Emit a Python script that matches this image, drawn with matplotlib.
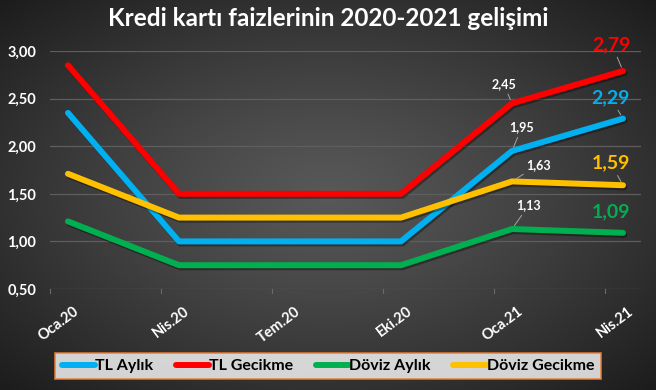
import matplotlib
matplotlib.use("Agg")
import matplotlib.pyplot as plt
import matplotlib.patheffects as pe
import matplotlib.transforms as mtrans
import numpy as np

plt.rcParams['font.family'] = ['Lato', 'DejaVu Sans']
plt.rcParams['font.weight'] = 'bold'

# data
months = ['Oca.20', 'Nis.20', 'Tem.20', 'Eki.20', 'Oca.21', 'Nis.21']
tl_aylik = [2.35, 1.00, 1.00, 1.00, 1.95, 2.29]
tl_gecikme = [2.85, 1.50, 1.50, 1.50, 2.45, 2.79]
doviz_aylik = [1.21, 0.75, 0.75, 0.75, 1.13, 1.09]
doviz_gecikme = [1.71, 1.25, 1.25, 1.25, 1.63, 1.59]
y_ticks = [0.5, 1.0, 1.5, 2.0, 2.5, 3.0]


def fmt(v):
    return ('%.2f' % v).replace('.', ',')


fig = plt.figure(figsize=(6.56, 3.90), dpi=100)

# radial gradient background
bg = fig.add_axes([0, 0, 1, 1], zorder=-10)
gx, gy = np.meshgrid(np.linspace(-1, 1, 400), np.linspace(-1, 1, 240))
r = np.sqrt(gx ** 2 + gy ** 2) / np.sqrt(2)
r = np.clip(r, 0, 1)
c_in, c_out = 0x58 / 255, 0x1c / 255
img = c_in + (c_out - c_in) * r ** 1.2
bg.imshow(np.dstack([img, img, img]), aspect='auto', extent=[0, 1, 0, 1])
bg.axis('off')

ax = fig.add_axes([50 / 656, 1 - 289 / 390, 591 / 656, 238 / 390])
ax.patch.set_alpha(0)

x = np.arange(len(months))
series = [
    (tl_aylik, '#00B0F0', 'TL Aylık'),
    (tl_gecikme, '#FF0000', 'TL Gecikme'),
    (doviz_aylik, '#00B050', 'Döviz Aylık'),
    (doviz_gecikme, '#FFC000', 'Döviz Gecikme'),
]
shadow = [pe.SimpleLineShadow(offset=(1, -1.5), alpha=0.35, shadow_color='black'), pe.Normal()]
for vals, col, name in series:
    ax.plot(x, vals, color=col, lw=4.3, solid_capstyle='round', solid_joinstyle='round',
            label=name, clip_on=False, path_effects=shadow, zorder=3)

ax.set_xlim(-0.162, 5.162)
ax.set_ylim(0.5, 3.0)
ax.set_yticks(y_ticks)
ax.set_yticklabels([fmt(v) for v in y_ticks], color='white', fontsize=10.5, fontweight='bold')
ax.grid(axis='y', color='#5e5e5e', lw=0.9)
ax.tick_params(axis='y', length=0, pad=10)
for s in ax.spines.values():
    s.set_visible(False)

ax.set_xticks(x)
ax.set_xticklabels(months, color='white', fontsize=10.5, fontweight='bold',
                   rotation=37, ha='right', va='top', rotation_mode='anchor')
ax.tick_params(axis='x', length=0, pad=11)
shift = mtrans.ScaledTranslation(5 / 100, 0, fig.dpi_scale_trans)
for lbl in ax.get_xticklabels():
    lbl.set_transform(lbl.get_transform() + shift)
# small tick marks along the axis
for k in range(6):
    ax.plot([-0.162 + k] * 2, [0.5, 0.46], color='#6a6a6a', lw=0.8, clip_on=False)

# data labels
lead = dict(arrowstyle='-', color='#a6a6a6', lw=0.7, shrinkA=1, shrinkB=3)
ends = [(tl_gecikme, '#FF0000', (-8, 19)), (tl_aylik, '#00B0F0', (-9, 15)),
        (doviz_gecikme, '#FFC000', (-9, 16)), (doviz_aylik, '#00B050', (-9, 15))]
for vals, col, off in ends:
    ax.annotate(fmt(vals[-1]), (x[-1], vals[-1]), xytext=off, textcoords='offset points',
                ha='center', va='center', color=col, fontsize=14, fontweight='bold',
                arrowprops=lead if col != '#00B050' else None, annotation_clip=False)

mids = [(tl_gecikme, (-6, 14)), (tl_aylik, (7, 17)), (doviz_gecikme, (19, 12)), (doviz_aylik, (12, 17))]
for vals, off in mids:
    ax.annotate(fmt(vals[4]), (x[4], vals[4]), xytext=off, textcoords='offset points',
                ha='center', va='center', color='white', fontsize=9, fontweight='bold',
                arrowprops=lead)

fig.text(0.5, 0.953, 'Kredi kartı faizlerinin 2020-2021 gelişimi', ha='center', va='center',
         color='white', fontsize=17.5, fontweight='bold')

leg = fig.legend(loc='center', bbox_to_anchor=(328 / 656, 1 - 366 / 390), ncol=4,
                 frameon=True, fancybox=False, handlelength=2.1, handletextpad=0.0,
                 columnspacing=1.4, prop={'weight': 'bold', 'size': 11.5}, borderpad=0.4)
leg.get_frame().set_edgecolor('#ED7D31')
leg.get_frame().set_linewidth(1.3)
leg.get_frame().set_facecolor('white')
for h in leg.get_lines():
    h.set_path_effects([])
    h.set_linewidth(4.3)

fig.savefig('out.png', dpi=100)
